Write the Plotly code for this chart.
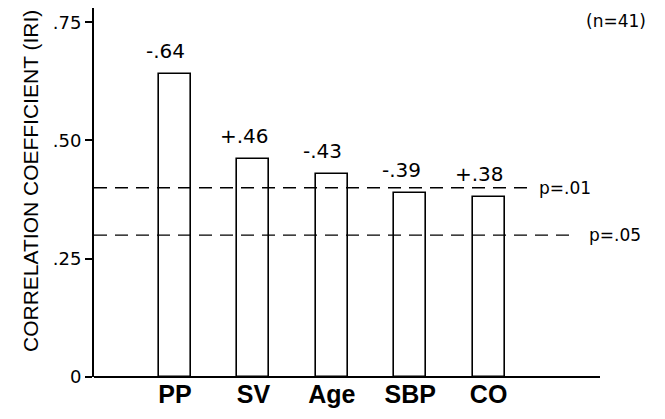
import plotly.graph_objects as go

categories = ["PP", "SV", "Age", "SBP", "CO"]
abs_r = [0.64, 0.46, 0.43, 0.39, 0.38]
r_labels = ["-.64", "+.46", "-.43", "-.39", "+.38"]
sig_levels = [0.40, 0.30]
sig_labels = ["p=.01", "p=.05"]
y_ticks = [0, 0.25, 0.50, 0.75]
y_ticklabels = ["0", ".25", ".50", ".75"]

SANS = "Liberation Sans, Arial, sans-serif"
WIDE = "DejaVu Sans, Verdana, sans-serif"
OFF = 8  # page body offset
W, H = 665 - OFF, 419 - OFF
L, R, T, B = 86, 65, 0, 42
PW = W - L - R
PH = H - T - B
x_pos = list(range(len(categories)))

fig = go.Figure()
fig.add_trace(go.Bar(
    x=x_pos, y=abs_r, width=0.41,
    marker=dict(color="white", line=dict(color="black", width=1.6)),
    hoverinfo="skip",
))

for xi, yi, lab in zip(x_pos, abs_r, r_labels):
    fig.add_annotation(x=xi, y=yi, text=lab, showarrow=False, xref="x", yref="y",
                       xanchor="center", yanchor="bottom", yshift=9, xshift=-9,
                       font=dict(family=WIDE, size=20, color="black"))

def px_x(p):
    return (p - (L + OFF)) / PW

sig_ends = [px_x(533), px_x(577)]
sig_text_x = [px_x(537), px_x(587)]
for lvl, lab, xe, xt in zip(sig_levels, sig_labels, sig_ends, sig_text_x):
    fig.add_shape(type="line", xref="paper", yref="y", x0=0, x1=xe, y0=lvl, y1=lvl,
                  line=dict(color="black", width=1.3, dash="13px,8px"))
    fig.add_annotation(xref="paper", yref="y", x=xt, y=lvl, text=lab, showarrow=False,
                       xanchor="left", yanchor="middle",
                       font=dict(family=WIDE, size=17, color="black"))

fig.add_annotation(xref="paper", yref="paper", x=px_x(648), y=1 - (9 - OFF) / PH,
                   text="(n=41)", showarrow=False, xanchor="right", yanchor="top",
                   font=dict(family=WIDE, size=17, color="black"))

fig.add_annotation(xref="paper", yref="paper", x=px_x(30), y=1 - (181 - OFF) / PH,
                   text="CORRELATION COEFFICIENT (IRI)", textangle=-90, showarrow=False,
                   xanchor="center", yanchor="middle",
                   font=dict(family=SANS, size=21, color="black"))

fig.update_layout(
    width=W, height=H,
    margin=dict(l=L, r=R, t=T, b=B),
    paper_bgcolor="white", plot_bgcolor="white",
    showlegend=False, bargap=0,
    xaxis=dict(range=[-1.033, -1.033 + PW / 78.4], tickvals=x_pos, ticktext=categories,
               showline=False, showgrid=False, zeroline=False, ticks="",
               tickfont=dict(family=SANS, size=25, color="black", weight="bold")),
    yaxis=dict(range=[0, 0.78], tickvals=y_ticks, ticktext=y_ticklabels,
               showline=True, linecolor="black", linewidth=2, showgrid=False,
               zeroline=True, zerolinecolor="black", zerolinewidth=2,
               ticks="outside", ticklen=7, tickwidth=1.5, tickcolor="black",
               tickfont=dict(family=WIDE, size=18, color="black")),
)
fig.write_html("out.html")
